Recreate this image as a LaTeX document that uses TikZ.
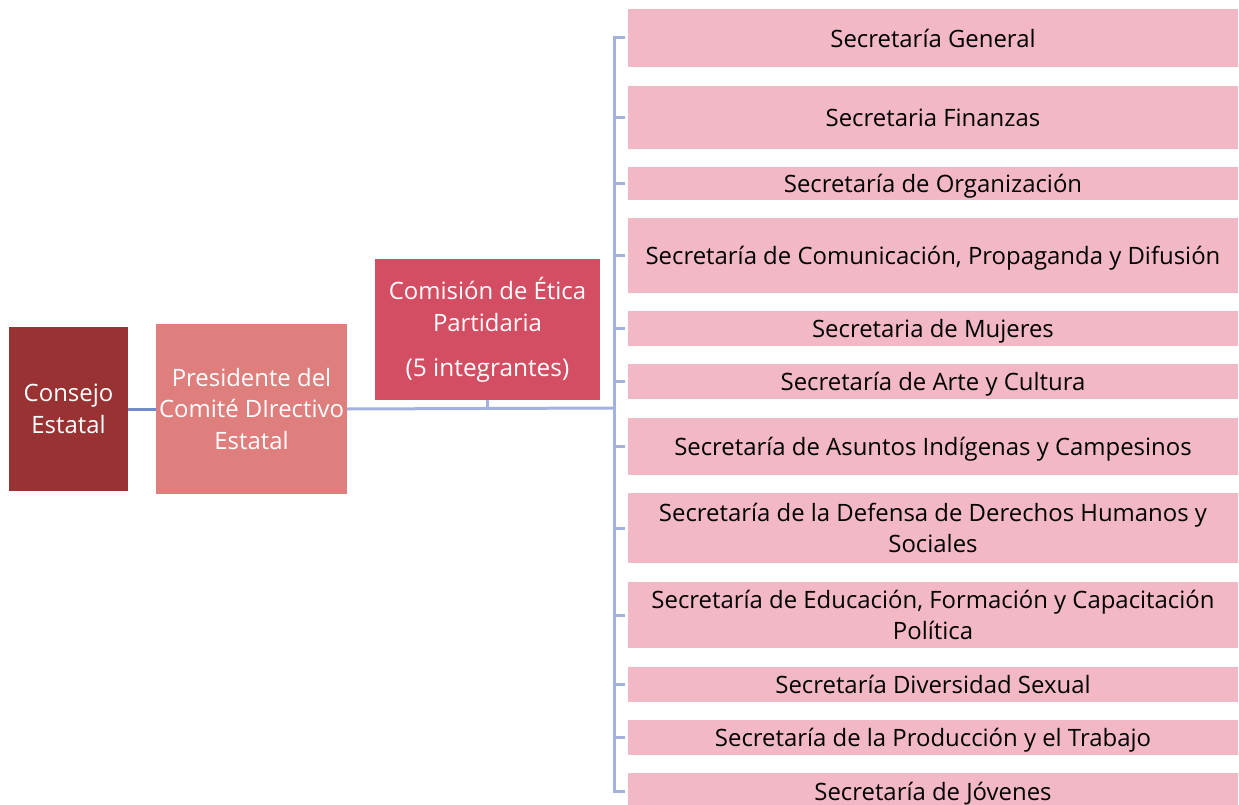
\documentclass[tikz,border=0pt]{standalone}
\usepackage{fontspec}
\setmainfont{Open Sans}
\definecolor{consejofill}{HTML}{993233}
\definecolor{presfill}{HTML}{DE7F7E}
\definecolor{comfill}{HTML}{D44E63}
\definecolor{secfill}{HTML}{F2B8C5}
\definecolor{busline}{HTML}{A3B2DD}
\definecolor{leftline}{HTML}{7089CF}
\begin{document}
\begin{tikzpicture}[x=1bp,y=-1bp,
  box/.style={draw=none, inner sep=0pt, align=center},
  leftbox/.style={box, text=white, font=\fontsize{24}{32}\selectfont},
  sec/.style={box, fill=secfill, text=black, minimum width=610bp, font=\fontsize{24}{32}\selectfont},
  secone/.style={sec, text depth=0pt},
  conn/.style={draw=busline, line width=3bp},
  lconn/.style={draw=leftline, line width=3bp}]
\useasboundingbox (0,0) rectangle (1239,805);
% left chain
\node[leftbox, fill=consejofill, minimum width=119bp, minimum height=164bp] (cons) at (68.5,409) {Consejo\\Estatal};
\node[leftbox, fill=presfill, minimum width=191bp, minimum height=170bp] (pres) at (251.5,409) {Presidente del\\Comité DIrectivo\\Estatal};
\node[leftbox, fill=comfill, minimum width=225bp, minimum height=141bp] (com) at (487.5,329.5) {Comisión de Ética\\Partidaria\\[13bp]{\fontsize{24.5}{32}\selectfont (5 integrantes)}};
% secretarias
\node[secone, minimum height=58bp] (s1) at (933,38) {Secretaría General};
\node[secone, minimum height=63bp] (s2) at (933,117.5) {Secretaria Finanzas};
\node[secone, minimum height=33bp] (s3) at (933,183.5) {Secretaría de Organización};
\node[secone, minimum height=75bp] (s4) at (933,255.5) {Secretaría de Comunicación, Propaganda y Difusión};
\node[secone, minimum height=35bp] (s5) at (933,328.5) {Secretaria de Mujeres};
\node[secone, minimum height=35bp] (s6) at (933,381.5) {Secretaría de Arte y Cultura};
\node[secone, minimum height=57bp] (s7) at (933,446.5) {Secretaría de Asuntos Indígenas y Campesinos};
\node[sec, minimum height=70bp] (s8) at (933,528) {Secretaría de la Defensa de Derechos Humanos y\\Sociales};
\node[sec, minimum height=66bp] (s9) at (933,615) {Secretaría de Educación, Formación y Capacitación\\Política};
\node[secone, minimum height=35bp] (s10) at (933,684.5) {Secretaría Diversidad Sexual};
\node[secone, minimum height=35bp] (s11) at (933,737.5) {Secretaría de la Producción y el Trabajo};
\node[secone, minimum height=36bp] (s12) at (933,791) {Secretaría de Jóvenes};
% connectors
\coordinate (bus) at (614,408);
\draw[lconn] (cons.east) -- (pres.west);
\draw[conn] (pres.east) -- (bus);
\draw[conn] (com.south) -- (com.south |- bus);
\draw[conn] ([xshift=-3bp]s1.west) -- (s1.west -| bus) -- (s12.west -| bus) -- ([xshift=-3bp]s12.west);
\foreach \i in {2,...,11} \draw[conn] ([xshift=-3bp]s\i.west) -- (s\i.west -| bus);
\end{tikzpicture}
\end{document}
